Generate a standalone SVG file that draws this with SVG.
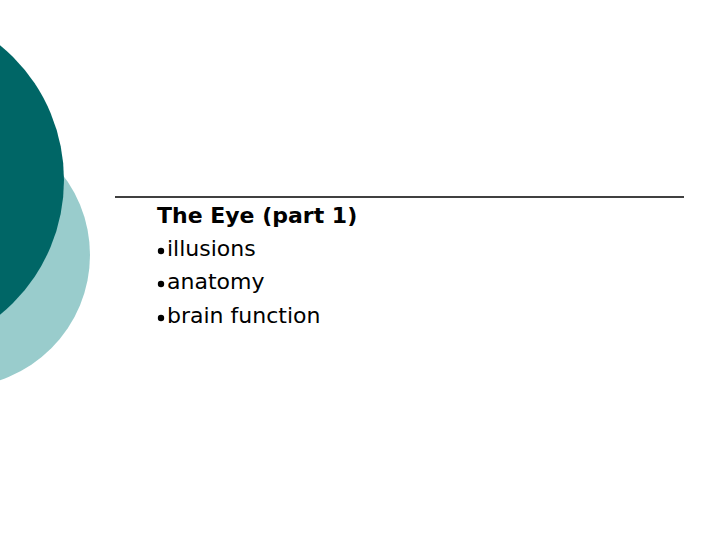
<svg xmlns="http://www.w3.org/2000/svg" width="720" height="540" viewBox="0 0 720 540">
<style>
.t{font-family:"DejaVu Sans",Verdana,sans-serif;font-size:22px;fill:#000}
</style>
<rect width="720" height="540" fill="#fff"/>
<g id="decor">
<circle cx="-42" cy="255" r="132" fill="#99cccc"/>
<circle cx="-110" cy="180" r="174" fill="#006666"/>
<line x1="115" y1="197" x2="684" y2="197" stroke="#000" stroke-width="1.5"/>
</g>
<g id="text">
<text class="t" x="157" y="223" font-weight="bold">The Eye (part 1)</text>
<circle cx="161" cy="251" r="3.2" fill="#000"/>
<text class="t" x="167" y="256">illusions</text>
<circle cx="161" cy="284" r="3.2" fill="#000"/>
<text class="t" x="167" y="289">anatomy</text>
<circle cx="161" cy="318" r="3.2" fill="#000"/>
<text class="t" x="167" y="323">brain function</text>
</g>
</svg>
